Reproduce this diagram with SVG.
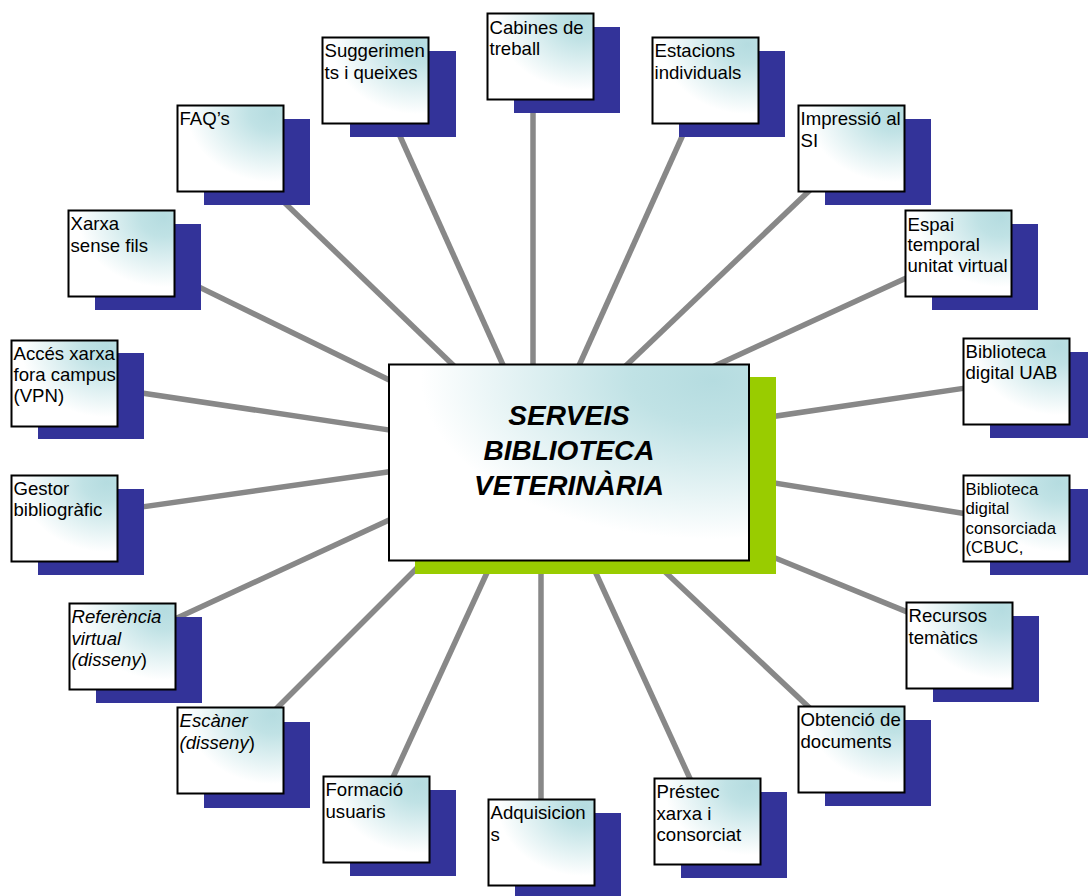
<svg xmlns="http://www.w3.org/2000/svg" width="1088" height="896" viewBox="0 0 1088 896">
<defs>
<radialGradient id="grad" cx="0.9" cy="0.08" r="0.9" fx="0.9" fy="0.08">
<stop offset="0" stop-color="#b5dce0"/>
<stop offset="0.25" stop-color="#c0e2e5"/>
<stop offset="0.9" stop-color="#ffffff"/>
</radialGradient>
<style>
.sh{fill:#333399}
.gs{fill:#99cc00}
.bx{fill:url(#grad);stroke:#000;stroke-width:2}
.t{font-family:"Liberation Sans",Arial,sans-serif;font-size:18.6px;fill:#000}
.ts{font-size:16.8px}
.it{font-style:italic}
.ct{font-family:"Liberation Sans",Arial,sans-serif;font-size:28px;font-weight:bold;font-style:italic;fill:#000}
.c line{stroke:#888888;stroke-width:5.5}
</style>
</defs>
<rect width="1088" height="896" fill="#ffffff"/>
<g class="c" id="connectors">
<line x1="395" y1="125" x2="507.5" y2="375"/>
<line x1="533" y1="105" x2="533" y2="375"/>
<line x1="687.3" y1="125" x2="574.8" y2="375"/>
<line x1="815.3" y1="185" x2="616.2" y2="375"/>
<line x1="915" y1="273.9" x2="695" y2="375"/>
<line x1="975" y1="386.6" x2="760" y2="418.4"/>
<line x1="975" y1="515.2" x2="760" y2="480.7"/>
<line x1="915" y1="615.1" x2="760" y2="551.8"/>
<line x1="815" y1="713" x2="652.5" y2="560"/>
<line x1="692.9" y1="785" x2="589.9" y2="560"/>
<line x1="541" y1="560" x2="541" y2="810"/>
<line x1="492.8" y1="560" x2="389.5" y2="785"/>
<line x1="425" y1="560" x2="265" y2="720"/>
<line x1="400" y1="515" x2="170" y2="621.3"/>
<line x1="400" y1="470.2" x2="130" y2="508.6"/>
<line x1="400" y1="431.6" x2="130" y2="391.3"/>
<line x1="400" y1="385.2" x2="190" y2="282.6"/>
<line x1="463.4" y1="375" x2="275" y2="193.4"/>
</g>
<g id="center">
<rect class="gs" x="415" y="377" width="361" height="197"/>
<rect class="bx" x="389" y="364.5" width="360" height="196"/>
<text class="ct" text-anchor="middle"><tspan x="569" y="425">SERVEIS</tspan><tspan x="569" y="460">BIBLIOTECA</tspan><tspan x="569" y="495">VETERINÀRIA</tspan></text>
</g>
<g id="n-suggeriments">
<rect class="sh" x="350" y="51" width="106" height="86"/>
<rect class="bx" x="322.5" y="37.5" width="106" height="86"/>
<text class="t"><tspan x="324.5" y="57">Suggerimen</tspan><tspan x="324.5" y="78.5">ts i queixes</tspan></text>
</g>
<g id="n-cabines">
<rect class="sh" x="514" y="27" width="106" height="86"/>
<rect class="bx" x="487.5" y="13.5" width="106" height="86"/>
<text class="t"><tspan x="489.5" y="33.5">Cabines de</tspan><tspan x="489.5" y="55">treball</tspan></text>
</g>
<g id="n-estacions">
<rect class="sh" x="679" y="51" width="106" height="86"/>
<rect class="bx" x="652.5" y="37.5" width="106" height="86"/>
<text class="t"><tspan x="654.5" y="57">Estacions</tspan><tspan x="654.5" y="78.5">individuals</tspan></text>
</g>
<g id="n-faq">
<rect class="sh" x="204" y="119" width="106" height="86"/>
<rect class="bx" x="177.5" y="105.5" width="106" height="86"/>
<text class="t"><tspan x="179.5" y="125">FAQ’s</tspan></text>
</g>
<g id="n-impressio">
<rect class="sh" x="825" y="119" width="106" height="86"/>
<rect class="bx" x="798.5" y="105.5" width="106" height="86"/>
<text class="t"><tspan x="800.5" y="125">Impressió al</tspan><tspan x="800.5" y="146.5">SI</tspan></text>
</g>
<g id="n-xarxa">
<rect class="sh" x="95" y="224" width="106" height="86"/>
<rect class="bx" x="68.5" y="210.5" width="106" height="86"/>
<text class="t"><tspan x="70.5" y="230">Xarxa</tspan><tspan x="70.5" y="251.5">sense fils</tspan></text>
</g>
<g id="n-espai">
<rect class="sh" x="932" y="224" width="106" height="86"/>
<rect class="bx" x="905.5" y="210.5" width="106" height="86"/>
<text class="t"><tspan x="907.5" y="230.5">Espai</tspan><tspan x="907.5" y="251">temporal</tspan><tspan x="907.5" y="271.5">unitat virtual</tspan></text>
</g>
<g id="n-acces">
<rect class="sh" x="38" y="353" width="106" height="86"/>
<rect class="bx" x="11.5" y="340.5" width="106" height="86"/>
<text class="t"><tspan x="13.5" y="360">Accés xarxa</tspan><tspan x="13.5" y="381">fora campus</tspan><tspan x="13.5" y="402">(VPN)</tspan></text>
</g>
<g id="n-uab">
<rect class="sh" x="990" y="352" width="106" height="86"/>
<rect class="bx" x="963.5" y="338.5" width="106" height="86"/>
<text class="t"><tspan x="965.5" y="358">Biblioteca</tspan><tspan x="965.5" y="379">digital UAB</tspan></text>
</g>
<g id="n-gestor">
<rect class="sh" x="38" y="489" width="106" height="86"/>
<rect class="bx" x="11.5" y="475.5" width="106" height="86"/>
<text class="t"><tspan x="13.5" y="495">Gestor</tspan><tspan x="13.5" y="516">bibliogràfic</tspan></text>
</g>
<g id="n-consorciada">
<rect class="sh" x="990" y="489" width="106" height="86"/>
<rect class="bx" x="963.5" y="475.5" width="106" height="86"/>
<text class="t ts"><tspan x="965.5" y="494.5">Biblioteca</tspan><tspan x="965.5" y="514">digital</tspan><tspan x="965.5" y="533.5">consorciada</tspan><tspan x="965.5" y="553">(CBUC,</tspan></text>
</g>
<g id="n-referencia">
<rect class="sh" x="96" y="617" width="106" height="86"/>
<rect class="bx" x="69.5" y="603.5" width="106" height="86"/>
<text class="t"><tspan class="it" x="71.5" y="623">Referència</tspan><tspan class="it" x="71.5" y="644.5">virtual</tspan><tspan x="71.5" y="666"><tspan class="it">(disseny</tspan>)</tspan></text>
</g>
<g id="n-recursos">
<rect class="sh" x="933" y="616" width="106" height="86"/>
<rect class="bx" x="906.5" y="602.5" width="106" height="86"/>
<text class="t"><tspan x="908.5" y="622">Recursos</tspan><tspan x="908.5" y="643.5">temàtics</tspan></text>
</g>
<g id="n-escaner">
<rect class="sh" x="204" y="722" width="106" height="86"/>
<rect class="bx" x="177.5" y="707.5" width="106" height="86"/>
<text class="t"><tspan class="it" x="179.5" y="727">Escàner</tspan><tspan x="179.5" y="748.5"><tspan class="it">(disseny</tspan>)</tspan></text>
</g>
<g id="n-obtencio">
<rect class="sh" x="825" y="720" width="106" height="86"/>
<rect class="bx" x="798.5" y="706.5" width="106" height="86"/>
<text class="t"><tspan x="800.5" y="726">Obtenció de</tspan><tspan x="800.5" y="747.5">documents</tspan></text>
</g>
<g id="n-formacio">
<rect class="sh" x="350" y="790" width="106" height="86"/>
<rect class="bx" x="323.5" y="776.5" width="106" height="86"/>
<text class="t"><tspan x="325.5" y="796">Formació</tspan><tspan x="325.5" y="817.5">usuaris</tspan></text>
</g>
<g id="n-prestec">
<rect class="sh" x="681" y="792" width="106" height="86"/>
<rect class="bx" x="654.5" y="778.5" width="106" height="86"/>
<text class="t"><tspan x="656.5" y="798">Préstec</tspan><tspan x="656.5" y="819.5">xarxa i</tspan><tspan x="656.5" y="841">consorciat</tspan></text>
</g>
<g id="n-adquisicions">
<rect class="sh" x="515" y="813" width="106" height="86"/>
<rect class="bx" x="488.5" y="799.5" width="106" height="86"/>
<text class="t"><tspan x="490.5" y="819">Adquisicion</tspan><tspan x="490.5" y="840.5">s</tspan></text>
</g>
</svg>
